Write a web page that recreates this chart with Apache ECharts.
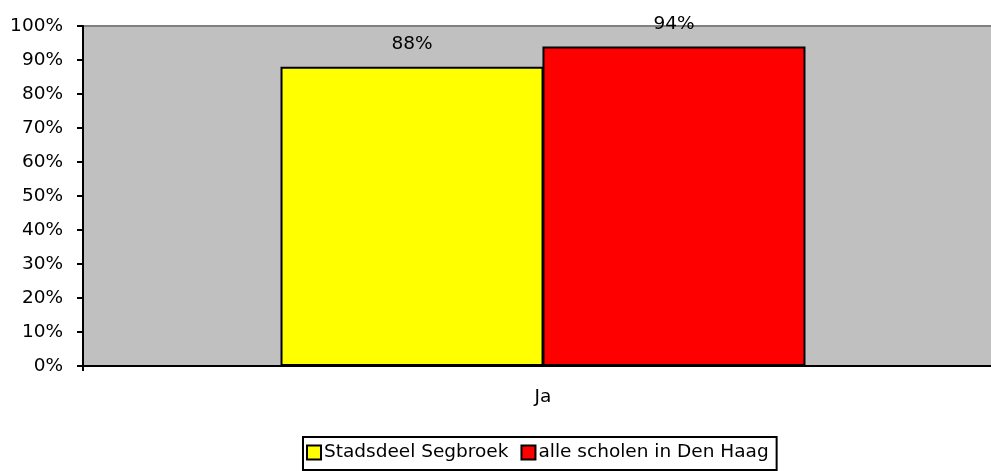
<!DOCTYPE html>
<html><head><meta charset="utf-8">
<script src="https://cdn.jsdelivr.net/npm/echarts@6/dist/echarts.min.js"></script>
<style>html,body{margin:0;padding:0;background:#fff}#c{width:991px;height:471px}</style>
</head><body><div id="c"></div>
<script>
const categories = ['Ja'];
const seriesNames = ['Stadsdeel Segbroek', 'alle scholen in Den Haag'];
const segbroek = [88];
const denHaag = [94];
const yTicks = [0, 10, 20, 30, 40, 50, 60, 70, 80, 90, 100];

const font = '"DejaVu Sans", Verdana, sans-serif';
const fs = 18.5;
const chart = echarts.init(document.getElementById('c'));
chart.setOption({
  animation: false,
  textStyle: { fontFamily: font },
  grid: { left: 83, width: 920, top: 26, height: 340, outerBoundsMode: 'none', containLabel: false,
          show: true, backgroundColor: '#c0c0c0', borderColor: '#808080', borderWidth: 2 },
  legend: {
    data: seriesNames,
    top: 437, left: 303,
    itemWidth: 14, itemHeight: 14, itemGap: 12,
    borderColor: '#000', borderWidth: 2, padding: [6, 8, 8, 3],
    textStyle: { fontSize: fs, color: '#000', fontFamily: font, padding: [0, 0, 0, -2] },
    icon: 'rect'
  },
  xAxis: {
    type: 'category', data: categories,
    axisLine: { lineStyle: { color: '#000', width: 2 } },
    axisTick: { show: true, length: 5, lineStyle: { color: '#000', width: 2 } },
    axisLabel: { fontSize: fs, color: '#000', margin: 22, fontFamily: font }
  },
  yAxis: {
    type: 'value', min: yTicks[0], max: yTicks[yTicks.length - 1], interval: 10,
    axisLine: { show: true, lineStyle: { color: '#000', width: 2 } },
    axisTick: { show: true, length: 6, lineStyle: { color: '#000', width: 2 } },
    splitLine: { show: false },
    axisLabel: { fontSize: fs, color: '#000', margin: 20, formatter: '{value}%', fontFamily: font }
  },
  series: [
    { name: seriesNames[0], type: 'bar', data: segbroek, barWidth: 263, barGap: '-0.4%',
      itemStyle: { color: '#ffff00', borderColor: '#000', borderWidth: 2 },
      label: { show: true, position: 'top', distance: 13, formatter: '{c}%', fontSize: fs, color: '#000', fontFamily: font } },
    { name: seriesNames[1], type: 'bar', data: denHaag, barWidth: 263, barGap: '-0.4%',
      itemStyle: { color: '#ff0000', borderColor: '#000', borderWidth: 2 },
      label: { show: true, position: 'top', distance: 13, formatter: '{c}%', fontSize: fs, color: '#000', fontFamily: font } }
  ]
});
</script></body></html>
